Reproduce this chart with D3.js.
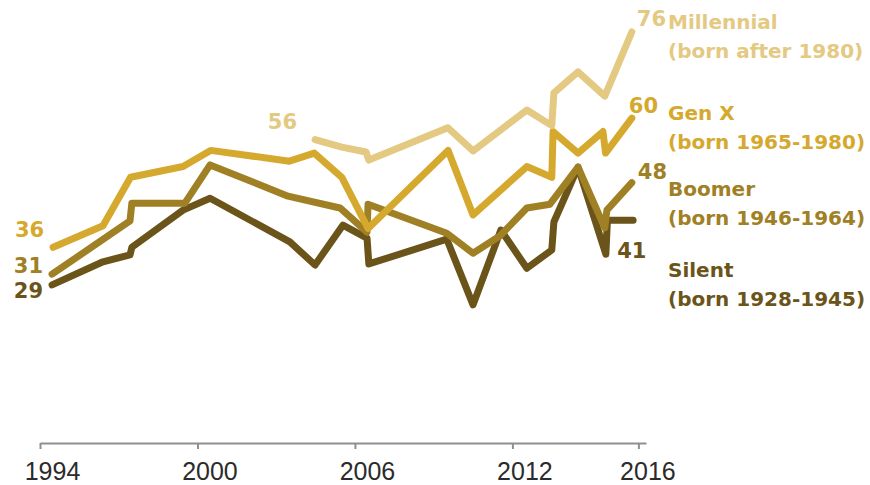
<!DOCTYPE html>
<html>
<head>
<meta charset="utf-8">
<script src="https://cdn.jsdelivr.net/npm/d3@7"></script>
<style>
  html, body { margin: 0; padding: 0; background: #fff; }
  svg { display: block; }
</style>
</head>
<body>
<svg id="chart" width="870" height="485"></svg>
<script>
// ---------------- DATA ----------------
const seriesNames = ["Silent", "Boomer", "Gen X", "Millennial"];
const seriesBorn  = ["(born 1928-1945)", "(born 1946-1964)", "(born 1965-1980)", "(born after 1980)"];

// [survey year, percent]
const silentData = [
  [1994.46, 29], [1996.4, 33.3], [1997.43, 34.6], [1997.5, 36], [1999.45, 42.9],
  [2000.48, 45.1], [2003.52, 37], [2004.48, 32.7], [2005.54, 40.1], [2006.46, 37.7],
  [2006.53, 32.9], [2009.5, 37.5], [2010.5, 25.3], [2011.56, 39.2], [2012.55, 32.1],
  [2013.5, 35.5], [2013.58, 40.7], [2014.5, 50.9], [2015.56, 34.7], [2015.62, 41],
  [2016.6, 41]
];
const boomerData = [
  [1994.46, 31], [1997.43, 40.9], [1997.5, 44.2], [1999.52, 44.2], [2000.48, 51.3],
  [2003.45, 45.5], [2005.43, 43.3], [2006.46, 38.8], [2006.5, 44], [2009.5, 38.6],
  [2010.5, 34.9], [2011.52, 38.1], [2012.55, 43.3], [2013.43, 44], [2014.5, 50.9],
  [2015.52, 39.6], [2015.6, 42.9], [2016.55, 48]
];
const genXData = [
  [1994.5, 36], [1996.4, 40], [1997.45, 49], [1999.45, 51], [2000.5, 54],
  [2003.5, 52], [2004.45, 53.5], [2005.5, 49], [2006.5, 39.5], [2009.55, 54],
  [2010.5, 42], [2012.55, 51], [2013.5, 49], [2013.55, 57.5], [2014.5, 53.5],
  [2015.45, 57.5], [2015.55, 53.5], [2016.55, 60]
];
const millennialData = [
  [2004.48, 56], [2005.5, 54.6], [2006.42, 53.7], [2006.53, 52.2], [2009.54, 58.2],
  [2010.5, 53.9], [2012.55, 61.5], [2013.5, 58.6], [2013.58, 64.7], [2014.5, 68.6],
  [2015.52, 64.1], [2016.55, 76]
];

const tickYears  = [1994, 2000, 2006, 2012, 2016.8];
const tickLabels = ["1994", "2000", "2006", "2012", "2016"];

// ---------------- STYLE / LAYOUT ----------------
const colors = ["#6b5419", "#a08024", "#d5a92e", "#e4c982"];
const allData = [silentData, boomerData, genXData, millennialData];

const svg = d3.select("#chart");

const x = d3.scaleLinear().domain([1994, 2017.09]).range([40, 646]);
const y = d3.scaleLinear().domain([0, 76]).range([441, 32]);

// axis
const axisG = svg.append("g").attr("transform", "translate(0,443)");
axisG.call(
  d3.axisBottom(x)
    .tickValues(tickYears)
    .tickFormat((d, i) => tickLabels[i])
    .tickSizeInner(6)
    .tickSizeOuter(0)
    .tickPadding(13)
);
axisG.select(".domain").attr("stroke", "#8f8f8f").attr("stroke-width", 2);
axisG.selectAll(".tick line").attr("stroke", "#8f8f8f").attr("stroke-width", 2);
axisG.selectAll(".tick text")
  .attr("font-family", "'Liberation Sans', Arial, sans-serif")
  .attr("font-size", 25)
  .attr("fill", "#2b2b2b")
  .attr("dx", (d, i) => i === tickYears.length - 1 ? 9 : 12);

// lines
const line = d3.line().x(d => x(d[0])).y(d => y(d[1]));
svg.append("g").selectAll("path")
  .data(allData)
  .join("path")
  .attr("d", d => line(d))
  .attr("fill", "none")
  .attr("stroke", (d, i) => colors[i])
  .attr("stroke-width", 7)
  .attr("stroke-linejoin", "round")
  .attr("stroke-linecap", "round");

// value labels (start and end)
const numFont = "'DejaVu Sans', sans-serif";
// offsets relative to the data point: [dx, dy, anchor]
const startOffsets = [[-9, 13, "end"], [-9, -1, "end"], [-9, -10, "end"], [-18, -11, "end"]];
const endOffsets   = [[-16, 38, "start"], [6, -4, "start"], [-3, -5, "start"], [5, -6, "start"]];

const labelG = svg.append("g")
  .attr("font-family", numFont)
  .attr("font-weight", "bold")
  .attr("font-size", 21);

allData.forEach((data, i) => {
  const first = data[0], last = data[data.length - 1];
  labelG.append("text")
    .attr("x", x(first[0]) + startOffsets[i][0])
    .attr("y", y(first[1]) + startOffsets[i][1])
    .attr("text-anchor", startOffsets[i][2])
    .attr("fill", colors[i])
    .text(Math.round(first[1]));
  labelG.append("text")
    .attr("x", x(last[0]) + endOffsets[i][0])
    .attr("y", y(last[1]) + endOffsets[i][1])
    .attr("text-anchor", endOffsets[i][2])
    .attr("fill", colors[i])
    .text(Math.round(last[1]));
});

// legend labels on the right
const legendX = 668;
const legendY = [277, 196, 120, 29];
const legendG = svg.append("g")
  .attr("font-family", numFont)
  .attr("font-weight", "bold")
  .attr("font-size", 20);
seriesNames.forEach((name, i) => {
  const t = legendG.append("text")
    .attr("x", legendX)
    .attr("y", legendY[i])
    .attr("fill", colors[i]);
  t.append("tspan").attr("x", legendX).text(name);
  t.append("tspan").attr("x", legendX).attr("dy", 29).text(seriesBorn[i]);
});
</script>
</body>
</html>
